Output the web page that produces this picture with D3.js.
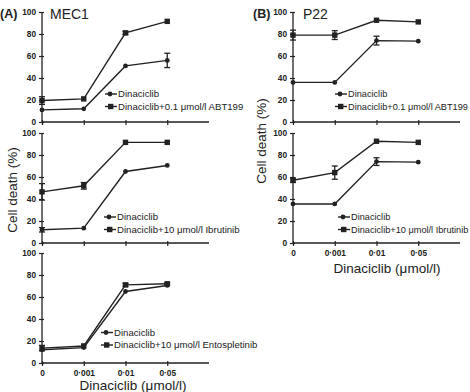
<!DOCTYPE html>
<html>
<head>
<meta charset="utf-8">
<script src="https://cdn.jsdelivr.net/npm/d3@7"></script>
<style>
  body { margin: 0; background: #fff; }
  svg { font-family: "Liberation Sans", Arial, sans-serif; }
</style>
</head>
<body>
<div id="chart"></div>
<script>
// categories on the x axis (index based)
var doseLabels = ["0", "0·001", "0·01", "0·05"];
var yTicks = [0, 20, 40, 60, 80, 100];

// MEC1 - ABT199
var a1Dina = [11, 12, 51, 56];
var a1DinaErr = [0, 0, 0, 6.5];
var a1Combo = [19.5, 21, 81, 91.5];
var a1ComboErr = [3.5, 0, 1.5, 0];

// MEC1 - Ibrutinib
var a2Dina = [12, 13.5, 65, 70.5];
var a2DinaErr = [2, 0, 0, 0];
var a2Combo = [46.5, 52, 91.5, 91.5];
var a2ComboErr = [7.5, 3, 0, 0];

// MEC1 - Entospletinib
var a3Dina = [12, 14, 65, 70.5];
var a3DinaErr = [0, 0, 0, 0];
var a3Combo = [13.5, 15.5, 71, 72];
var a3ComboErr = [2.5, 0, 1.5, 1];

// P22 - ABT199
var b1Dina = [36, 36, 74, 73.5];
var b1DinaErr = [0, 0, 4, 0];
var b1Combo = [79, 79, 92.5, 91];
var b1ComboErr = [4.5, 4, 0, 0];

// P22 - Ibrutinib
var b2Dina = [35.5, 35.5, 74, 73.5];
var b2DinaErr = [0, 0, 3.5, 0];
var b2Combo = [57, 64, 92.5, 91.5];
var b2ComboErr = [2, 6, 0, 0];

var legendA1 = ["Dinaciclib", "Dinaciclib+0.1 μmol/l ABT199"];
var legendA2 = ["Dinaciclib", "Dinaciclib+10 μmol/l Ibrutinib"];
var legendA3 = ["Dinaciclib", "Dinaciclib+10 μmol/l Entospletinib"];

var ink = "#222";

var svg = d3.select("#chart").append("svg")
    .attr("width", 470)
    .attr("height", 392);

function drawPanel(opt) {
    var x = d3.scaleLinear().domain([0, 4]).range([opt.left, opt.left + 167]);
    var y = d3.scaleLinear().domain([0, 100]).range([opt.bottom, opt.bottom - 110]);
    var g = svg.append("g");

    // y axis
    var yAxis = g.append("g")
        .attr("transform", "translate(" + opt.left + ",0)")
        .call(d3.axisLeft(y).tickValues(yTicks).tickSize(3).tickPadding(3));
    yAxis.selectAll(".tick line").attr("x2", -3).attr("x1", 2);

    // x axis
    var xAxis = g.append("g")
        .attr("transform", "translate(0," + opt.bottom + ")")
        .call(d3.axisBottom(x).tickValues([0, 1, 2, 3]).tickSize(3).tickPadding(4)
            .tickFormat(function (d) { return opt.showX ? doseLabels[d] : ""; }));
    xAxis.selectAll(".tick line").attr("y1", -2);

    [yAxis, xAxis].forEach(function (ax) {
        ax.select(".domain").attr("d", null);
        ax.selectAll(".tick line").attr("stroke", ink).attr("stroke-width", 1.2);
        ax.selectAll(".tick text")
            .attr("fill", ink)
            .attr("font-size", "8.3px")
            .attr("font-weight", "bold")
            .attr("font-family", "Liberation Sans, Arial, sans-serif");
    });
    g.append("line")
        .attr("x1", opt.left).attr("x2", opt.left)
        .attr("y1", y(0)).attr("y2", y(100))
        .attr("stroke", ink).attr("stroke-width", 1.3);
    g.append("line")
        .attr("x1", x(0)).attr("x2", x(4))
        .attr("y1", y(0)).attr("y2", y(0))
        .attr("stroke", ink).attr("stroke-width", 1.3);

    var line = d3.line()
        .x(function (d, i) { return x(i); })
        .y(function (d) { return y(d); });

    [
        {vals: opt.combo, err: opt.comboErr, shape: "square"},
        {vals: opt.dina, err: opt.dinaErr, shape: "circle"}
    ].forEach(function (s) {
        g.append("path")
            .datum(s.vals)
            .attr("d", line)
            .attr("fill", "none")
            .attr("stroke", ink)
            .attr("stroke-width", 1.4);

        // error bars
        s.vals.forEach(function (v, i) {
            if (!s.err[i]) return;
            var top = y(v + s.err[i]), bot = y(v - s.err[i]);
            g.append("line").attr("x1", x(i)).attr("x2", x(i))
                .attr("y1", top).attr("y2", bot)
                .attr("stroke", ink).attr("stroke-width", 1.3);
            [top, bot].forEach(function (yy) {
                g.append("line").attr("x1", x(i) - 3).attr("x2", x(i) + 3)
                    .attr("y1", yy).attr("y2", yy)
                    .attr("stroke", ink).attr("stroke-width", 1.3);
            });
        });

        if (s.shape == "square") {
            g.selectAll(null).data(s.vals).enter().append("rect")
                .attr("x", function (d, i) { return x(i) - 2.7; })
                .attr("y", function (d) { return y(d) - 2.7; })
                .attr("width", 5.4).attr("height", 5.4)
                .attr("fill", ink);
        } else {
            g.selectAll(null).data(s.vals).enter().append("circle")
                .attr("cx", function (d, i) { return x(i); })
                .attr("cy", function (d) { return y(d); })
                .attr("r", 2.4)
                .attr("fill", ink);
        }
    });

    // legend
    opt.legend.forEach(function (t, i) {
        var ly = opt.legY + i * 12.5;
        g.append("line").attr("x1", opt.legX).attr("x2", opt.legX + 12)
            .attr("y1", ly).attr("y2", ly)
            .attr("stroke", ink).attr("stroke-width", 1.4);
        if (i == 0) {
            g.append("circle").attr("cx", opt.legX + 5).attr("cy", ly).attr("r", 2.4).attr("fill", ink);
        } else {
            g.append("rect").attr("x", opt.legX + 3).attr("y", ly - 2.7)
                .attr("width", 5.4).attr("height", 5.4).attr("fill", ink);
        }
        g.append("text")
            .attr("x", opt.legX + 13)
            .attr("y", ly + 3.4)
            .attr("font-size", opt.legSize || "9.6px")
            .attr("fill", ink)
            .text(t);
    });
}

drawPanel({left: 42, bottom: 122, dina: a1Dina, dinaErr: a1DinaErr, combo: a1Combo, comboErr: a1ComboErr,
    legend: legendA1, legX: 105, legY: 94, showX: false});
drawPanel({left: 42, bottom: 243, dina: a2Dina, dinaErr: a2DinaErr, combo: a2Combo, comboErr: a2ComboErr,
    legend: legendA2, legX: 104, legY: 217, showX: false});
drawPanel({left: 42, bottom: 363, dina: a3Dina, dinaErr: a3DinaErr, combo: a3Combo, comboErr: a3ComboErr,
    legend: legendA3, legX: 101, legY: 332.5, showX: true});
drawPanel({left: 293, bottom: 122, dina: b1Dina, dinaErr: b1DinaErr, combo: b1Combo, comboErr: b1ComboErr,
    legend: legendA1, legX: 335, legY: 94, showX: false, legSize: "9.2px"});
drawPanel({left: 293, bottom: 243, dina: b2Dina, dinaErr: b2DinaErr, combo: b2Combo, comboErr: b2ComboErr,
    legend: legendA2, legX: 338, legY: 217, showX: true, legSize: "9.2px"});

// panel titles
function label(x, y, t, size, weight, anchor) {
    return svg.append("text").attr("x", x).attr("y", y)
        .attr("font-size", size).attr("font-weight", weight || "normal")
        .attr("text-anchor", anchor || "start")
        .attr("fill", ink).text(t);
}
label(0, 18, "(A)", "12.5px", "bold");
label(50, 19, "MEC1", "14px");
label(253, 18, "(B)", "12.5px", "bold");
label(303, 19, "P22", "14px");

// axis titles
label(133, 390, "Dinaciclib (μmol/l)", "13.5px", "normal", "middle");
label(387, 273, "Dinaciclib (μmol/l)", "13.5px", "normal", "middle");
label(0, 0, "Cell death (%)", "13.5px", "normal", "middle")
    .attr("transform", "translate(17,190) rotate(-90)");
label(0, 0, "Cell death (%)", "13.5px", "normal", "middle")
    .attr("transform", "translate(266,141) rotate(-90)");
</script>
</body>
</html>
